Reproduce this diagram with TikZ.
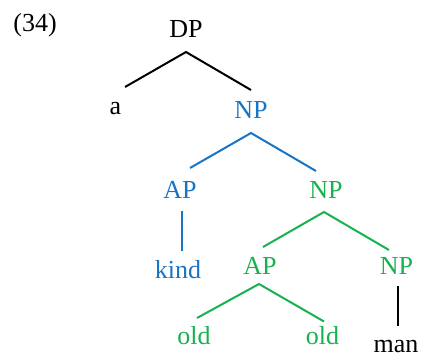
\documentclass[tikz,border=0pt]{standalone}
\usepackage{fontspec}
\setmainfont{Liberation Serif}
\usepackage{tikz}

\definecolor{npblue}{RGB}{24,116,196}
\definecolor{npgreen}{RGB}{22,178,80}

\tikzset{
    lbl/.style={anchor=base, inner sep=0pt, font=\fontsize{13}{15}\selectfont},
    branch/.style={line width=1pt}
}

\begin{document}
\begin{tikzpicture}[x=0.5pt, y=-0.5pt]
    \useasboundingbox (0,0) rectangle (421,358);
    % example number
    \node[lbl] (ex) at (35,32) {(34)};
    % labels
    \node[lbl] (dp) at (186,38) {DP};
    \node[lbl] (a) at (115.5,114) {a};
    \node[lbl, npblue] (np1) at (251,118) {NP};
    \node[lbl, npblue] (ap1) at (180,198) {AP};
    \node[lbl, npblue] (kind) at (178,278) {kind};
    \node[lbl, npgreen] (np2) at (326,198) {NP};
    \node[lbl, npgreen] (ap2) at (260,274) {AP};
    \node[lbl, npgreen] (np3) at (396.5,274) {NP};
    \node[lbl, npgreen] (old1) at (194,344) {old};
    \node[lbl, npgreen] (old2) at (322.5,344) {old};
    \node[lbl] (man) at (396,352) {man};
    % DP branches
    \draw[branch] ([shift={(9.5,-27)}]a.base) -- ([shift={(0,14)}]dp.base) -- ([shift={(0,-28)}]np1.base);
    % blue NP
    \draw[branch, npblue] ([shift={(10,-30)}]ap1.base) -- ([shift={(0,15)}]np1.base) -- ([shift={(-10,-27)}]np2.base);
    \draw[branch, npblue] ([shift={(2,13)}]ap1.base) -- ([shift={(4,-27)}]kind.base);
    % green NP and AP
    \draw[branch, npgreen] ([shift={(3,-27)}]ap2.base) -- ([shift={(-2,14)}]np2.base) -- ([shift={(-7.5,-24)}]np3.base);
    \draw[branch, npgreen] ([shift={(3,-26)}]old1.base) -- ([shift={(-1,10)}]ap2.base) -- ([shift={(1.5,-22.5)}]old2.base);
    % head noun
    \draw[branch] ([shift={(1.5,12)}]np3.base) -- ([shift={(2,-26)}]man.base);
\end{tikzpicture}
\end{document}
